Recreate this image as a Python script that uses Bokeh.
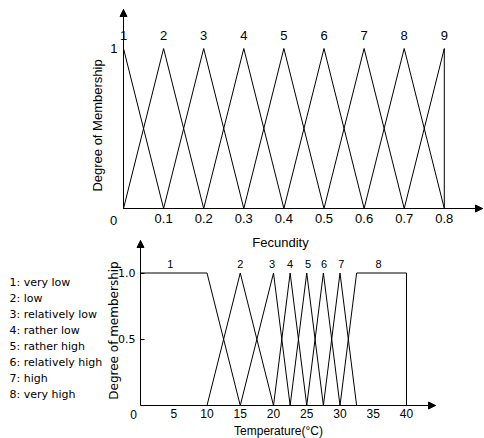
import numpy as np
from bokeh.plotting import figure
from bokeh.models import (Label, Arrow, NormalHead, FixedTicker, Range1d,
                          LinearAxis)
from bokeh.embed import file_html
from bokeh.resources import INLINE

# ---------------- data ----------------
fec_names = ["1", "2", "3", "4", "5", "6", "7", "8", "9"]
fec_peaks = [0.0, 0.1, 0.2, 0.3, 0.4, 0.5, 0.6, 0.7, 0.8]
fec_xs = [
    [0.0, 0.0, 0.1],
    [0.0, 0.1, 0.2],
    [0.1, 0.2, 0.3],
    [0.2, 0.3, 0.4],
    [0.3, 0.4, 0.5],
    [0.4, 0.5, 0.6],
    [0.5, 0.6, 0.7],
    [0.6, 0.7, 0.8],
    [0.7, 0.8, 0.8],
]
fec_ys = [[0, 1, 0]] * 9
fec_xticks = [0.1, 0.2, 0.3, 0.4, 0.5, 0.6, 0.7, 0.8]
fec_xtick_labels = ["0.1", "0.2", "0.3", "0.4", "0.5", "0.6", "0.7", "0.8"]
fec_yticks = [1]
fec_ytick_labels = ["1"]

temp_names = ["1", "2", "3", "4", "5", "6", "7", "8"]
temp_label_x = [4.5, 15, 19.8, 22.5, 25.2, 27.6, 30.2, 35.8]
temp_xs = [
    [0, 10, 15],
    [10, 15, 20],
    [15, 20, 22.5],
    [20, 22.5, 25],
    [22.5, 25, 27.5],
    [25, 27.5, 30],
    [27.5, 30, 32.5],
    [30, 32.5, 40, 40],
]
temp_ys = [
    [1, 1, 0],
    [0, 1, 0],
    [0, 1, 0],
    [0, 1, 0],
    [0, 1, 0],
    [0, 1, 0],
    [0, 1, 0],
    [0, 1, 1, 0],
]
temp_xticks = [5, 10, 15, 20, 25, 30, 35, 40]
temp_yticks = [0.5, 1.0]
temp_ytick_labels = ["0.5", "1.0"]
legend_lines = [
    "1: very low",
    "2: low",
    "3: relatively low",
    "4: rather low",
    "5: rather high",
    "6: relatively high",
    "7: high",
    "8: very high",
]

ARIAL = "Liberation Sans"
TAHOMA = "DejaVu Sans"

# ---------------- layout geometry (page pixels) ----------------
OX, OY = 0, 0          # page offset of the figure (as measured)
W, H = 484, 438        # figure size

# top chart: origin at page (123, 208); 401 px per unit in x, 160 in y
def tx(px): return (px - 123) / 401.0
def ty(py): return (208 - py) / 160.0
# bottom chart: origin at page (140, 405); 6.65 px per degree, 132.5 per unit
def bx(px): return (px - 140) / 6.65
def by(py): return (405 - py) / 132.5

p = figure(width=W, height=H, title=None,
           x_range=Range1d(tx(OX), tx(OX + W)),
           y_range=Range1d(ty(OY + H), ty(OY)),
           x_axis_location=None, y_axis_location=None,
           min_border_left=0, min_border_right=0,
           min_border_top=0, min_border_bottom=0,
           output_backend="svg", toolbar_location=None)
p.extra_x_ranges = {"temp": Range1d(bx(OX), bx(OX + W))}
p.extra_y_ranges = {"memb": Range1d(by(OY + H), by(OY))}
p.outline_line_color = None
p.background_fill_color = "white"
p.border_fill_color = "white"
p.xgrid.visible = False
p.ygrid.visible = False


def style_axis(ax, font, size, standoff):
    ax.major_tick_in = 0
    ax.major_tick_out = 0
    ax.minor_tick_in = 0
    ax.minor_tick_out = 0
    ax.axis_line_color = "black"
    ax.major_tick_line_color = "black"
    ax.major_label_text_font = font
    ax.major_label_text_font_size = size
    ax.major_label_text_color = "black"
    ax.major_label_standoff = standoff


def head():
    return NormalHead(size=7, fill_color="black", line_color="black", line_width=1)


def lab(x, y, text, font, size, align="center", angle=0.0, rng=None):
    kw = {}
    if rng:
        kw = dict(x_range_name="temp", y_range_name="memb")
    return Label(x=x, y=y, text=text, text_align=align, text_baseline="middle",
                 text_font=font, text_font_size=size, text_color="black",
                 angle=angle, **kw)


# ---------------- top chart: Fecundity ----------------
p.multi_line(fec_xs, fec_ys, line_color="black", line_width=1)

ax1 = LinearAxis(fixed_location=0, bounds=(0, tx(482)),
                 ticker=FixedTicker(ticks=fec_xticks),
                 major_label_overrides=dict(zip(fec_xticks, fec_xtick_labels)))
style_axis(ax1, ARIAL, "13px", 5)
p.add_layout(ax1, "below")
ay1 = LinearAxis(fixed_location=0, bounds=(0, ty(9)),
                 ticker=FixedTicker(ticks=fec_yticks),
                 major_label_overrides=dict(zip(fec_yticks, fec_ytick_labels)))
style_axis(ay1, ARIAL, "13px", 6)
p.add_layout(ay1, "left")

p.add_layout(Arrow(end=head(), x_start=0, y_start=ty(20), x_end=0, y_end=ty(9),
                   line_color="black", line_width=1))
p.add_layout(Arrow(end=head(), x_start=tx(470), y_start=0, x_end=tx(482), y_end=0,
                   line_color="black", line_width=1))

for name, xp in zip(fec_names, fec_peaks):
    p.add_layout(lab(xp, ty(35), name, ARIAL, "13px"))
p.add_layout(lab(tx(113), ty(220), "0", ARIAL, "13px"))
p.add_layout(lab(tx(280), ty(241.5), "Fecundity", ARIAL, "13px"))
p.add_layout(lab(tx(96.5), ty(125), "Degree of Membership", ARIAL, "13px",
                 angle=np.pi / 2))

# ---------------- bottom chart: Temperature ----------------
p.multi_line(temp_xs, temp_ys, line_color="black", line_width=1,
             x_range_name="temp", y_range_name="memb")

ax2 = LinearAxis(x_range_name="temp", y_range_name="memb",
                 fixed_location=0, bounds=(0, bx(435)),
                 ticker=FixedTicker(ticks=temp_xticks))
style_axis(ax2, ARIAL, "12px", 3)
p.add_layout(ax2, "below")
ay2 = LinearAxis(x_range_name="temp", y_range_name="memb",
                 fixed_location=0, bounds=(0, by(240)),
                 ticker=FixedTicker(ticks=temp_yticks),
                 major_label_overrides=dict(zip(temp_yticks, temp_ytick_labels)))
style_axis(ay2, TAHOMA, "11px", 5)
ay2.major_tick_in = 4
p.add_layout(ay2, "left")

p.add_layout(Arrow(end=head(), x_start=0, y_start=by(250), x_end=0, y_end=by(240),
                   line_color="black", line_width=1,
                   x_range_name="temp", y_range_name="memb"))
p.add_layout(Arrow(end=head(), x_start=bx(425), y_start=0, x_end=bx(435), y_end=0,
                   line_color="black", line_width=1,
                   x_range_name="temp", y_range_name="memb"))

for name, xl in zip(temp_names, temp_label_x):
    p.add_layout(lab(xl, by(263), name, ARIAL, "11px", rng=True))
p.add_layout(lab(bx(133), by(414), "0", ARIAL, "12px", rng=True))
p.add_layout(lab(bx(278), by(430), "Temperature(°C)", ARIAL, "12px", rng=True))
p.add_layout(lab(bx(113), by(330), "Degree of membership", TAHOMA, "12px",
                 angle=np.pi / 2, rng=True))
for i, line in enumerate(legend_lines):
    p.add_layout(lab(bx(9), by(282.3 + 16 * i), line, TAHOMA, "11px",
                     align="left", rng=True))

open("out.html", "w").write(file_html(p, INLINE))
